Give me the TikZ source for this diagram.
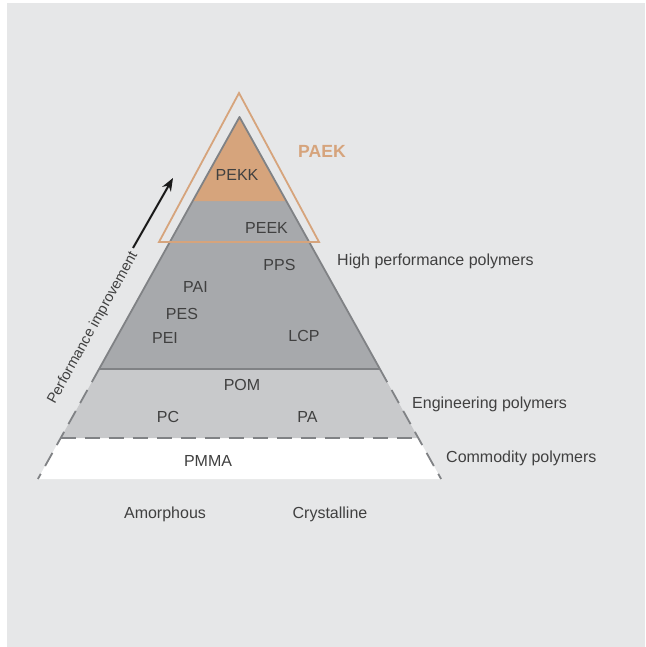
\documentclass[tikz,border=0pt]{standalone}
\usepackage{fontspec}
\setmainfont{Liberation Sans}
\usepackage{xcolor}
\usepackage{tikz}
\usetikzlibrary{arrows.meta,positioning}

\definecolor{bggray}{HTML}{E6E7E8}
\definecolor{hpgray}{HTML}{A7A9AC}
\definecolor{enggray}{HTML}{C8C9CB}
\definecolor{rimgray}{HTML}{808285}
\definecolor{paekorange}{HTML}{D6A47C}
\definecolor{txtgray}{HTML}{404040}

\begin{document}
\begin{tikzpicture}[x=1pt,y=-1pt,inner sep=0pt,
  lbl/.style={anchor=base,text=txtgray,font=\fontsize{16}{19}\selectfont},
  tierlbl/.style={lbl,anchor=base west},
  rim/.style={draw=rimgray,line width=1.8pt,line join=round},
  rimdash/.style={rim,dash pattern=on 15pt off 9pt},
  perfarrow/.style={-{Stealth[length=13pt,width=10pt]},line width=2pt,black!90}]

\useasboundingbox (0,0) rectangle (645,647);
\fill[bggray] (7,3) rectangle (645,647);

\coordinate (apex) at (239.5,117);
\coordinate (hpL) at (192.7,201);
\coordinate (hpR) at (286.3,201);
\coordinate (midL) at (99.1,369);
\coordinate (midR) at (379.9,369);
\coordinate (engL) at (60.7,438);
\coordinate (engR) at (418.3,438);
\coordinate (botL) at (37.9,479);
\coordinate (botR) at (441.1,479);

\fill[white] (engL) -- (engR) -- (botR) -- (botL) -- cycle;
\fill[enggray] (midL) -- (midR) -- (engR) -- (engL) -- cycle;
\fill[hpgray] (hpL) -- (hpR) -- (midR) -- (midL) -- cycle;
\fill[paekorange] (apex) -- (hpR) -- (hpL) -- cycle;
\draw[rim] (midL) -- (apex) -- (midR) -- cycle;
\draw[rimdash] (midL) -- (engL) -- (botL);
\draw[rimdash] (midR) -- (engR) -- (botR);
\draw[rimdash] (engL) -- (engR);
\draw[paekorange,line width=1.8pt] (239,93) -- (319,242) -- (159,242) -- cycle;

\node[lbl] (pekk) at (237,180) {PEKK};
\node[lbl] (peek) at (266.5,233) {PEEK};
\node[lbl] (pps) at (279.5,270) {PPS};
\node[lbl] (pai) at (195.5,292) {PAI};
\node[lbl] (pes) at (182,319) {PES};
\node[lbl] (pei) at (165,343) {PEI};
\node[lbl] (lcp) at (304,341) {LCP};
\node[lbl] (pom) at (242,390) {POM};
\node[lbl] (pc) at (168,422) {PC};
\node[lbl] (pa) at (307.5,422) {PA};
\node[lbl] (pmma) at (208,466.5) {PMMA};

\node[lbl,text=paekorange,font=\fontsize{17.6}{20}\selectfont\bfseries] (paek) at (322,158) {PAEK};
\node[tierlbl] (hightier) at (337,265) {High performance polymers};
\node[tierlbl] (engtier) at (412,408) {Engineering polymers};
\node[tierlbl] (comtier) at (446,462) {Commodity polymers};

\node[lbl] (amorph) at (165,518) {Amorphous};
\node[lbl] (cryst) at (330,518) {Crystalline};

\node[lbl,anchor=center,rotate=61,font=\fontsize{14.5}{17}\selectfont] (perf) at (93,328) {Performance improvement};
\coordinate (perftail) at (133,248);
\coordinate (perftip) at (173,178);
\draw[perfarrow] (perftail) -- (perftip);

\end{tikzpicture}
\end{document}
